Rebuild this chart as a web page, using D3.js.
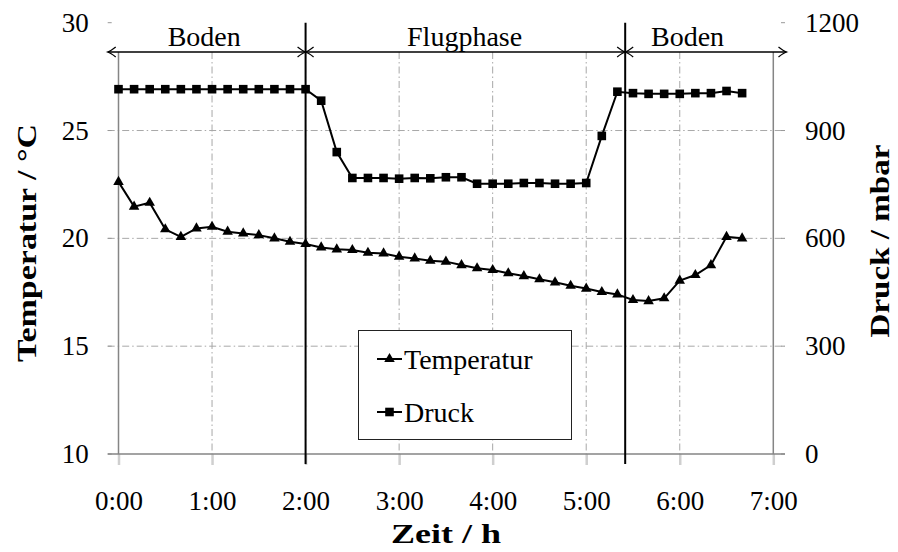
<!DOCTYPE html>
<html>
<head>
<meta charset="utf-8">
<script src="https://cdn.jsdelivr.net/npm/d3@7"></script>
<style>
  body { margin: 0; background: #fff; }
  svg { display: block; }
  text { font-family: "Liberation Serif", "DejaVu Serif", serif; fill: #000; }
</style>
</head>
<body>
<div id="chart"></div>
<script>
// time in minutes since start, 10 min steps
const times = d3.range(0, 401, 10);

const temperature = [
  22.62, 21.47, 21.65, 20.42, 20.07, 20.46, 20.54, 20.31, 20.23, 20.15,
  20.00, 19.84, 19.74, 19.58, 19.49, 19.46, 19.33, 19.30, 19.15, 19.07,
  18.96, 18.92, 18.76, 18.61, 18.53, 18.38, 18.25, 18.10, 17.96, 17.80,
  17.67, 17.51, 17.40, 17.14, 17.09, 17.22, 18.04, 18.30, 18.76, 20.07,
  20.00
];

const pressure = [
  1015, 1015, 1015, 1015, 1015, 1015, 1015, 1015, 1015, 1015,
  1015, 1015, 1015, 983, 840, 768, 768, 768, 766, 768,
  767, 770, 770, 752, 752, 752, 754, 754, 752, 752,
  754, 885, 1008, 1004, 1002, 1002, 1002, 1004, 1004, 1010,
  1004
];

const hourTicks = [0, 60, 120, 180, 240, 300, 360, 420];
const tempTicks = [10, 15, 20, 25, 30];
const pressTicks = [0, 300, 600, 900, 1200];

const phaseNames = ["Boden", "Flugphase", "Boden"];
const phaseStarts = [0, 120, 325];
const phaseLabelAt = [55, 222, 365];

const width = 898, height = 552;
const plot = { left: 107.7, right: 785, top: 22.7, bottom: 454 };
const arrowY = 52;
const serif = '"Liberation Serif", "DejaVu Serif", serif';

const x = d3.scaleLinear().domain([0, 420]).range([118.5, 773.3]);
const yT = d3.scaleLinear().domain([10, 30]).range([plot.bottom, plot.top]);
const yP = d3.scaleLinear().domain([0, 1200]).range([plot.bottom, plot.top]);

const svg = d3.select('#chart').append('svg')
  .attr('width', width)
  .attr('height', height);

const gridColor = '#a8a8a8';
const dash = '7,3,1.5,3';

// horizontal grid lines
svg.append('g').selectAll('line')
  .data(tempTicks.filter(d => d > 10 && d < 30))
  .enter().append('line')
  .attr('x1', plot.left).attr('x2', plot.right)
  .attr('y1', d => yT(d)).attr('y2', d => yT(d))
  .style('stroke', gridColor).style('stroke-width', 1)
  .style('stroke-dasharray', dash);

// vertical grid lines
svg.append('g').selectAll('line')
  .data(hourTicks.filter(d => d > 0 && d < 420))
  .enter().append('line')
  .attr('x1', d => x(d)).attr('x2', d => x(d))
  .attr('y1', arrowY).attr('y2', plot.bottom)
  .style('stroke', gridColor).style('stroke-width', 1)
  .style('stroke-dasharray', dash);

// small y ticks on both sides
svg.append('g').selectAll('line')
  .data(tempTicks)
  .enter().append('line')
  .attr('x1', plot.left).attr('x2', plot.left + 4)
  .attr('y1', d => yT(d)).attr('y2', d => yT(d))
  .style('stroke', '#999').style('stroke-width', 1);
svg.append('g').selectAll('line')
  .data(tempTicks)
  .enter().append('line')
  .attr('x1', plot.right - 4).attr('x2', plot.right)
  .attr('y1', d => yT(d)).attr('y2', d => yT(d))
  .style('stroke', '#999').style('stroke-width', 1);

// x axis (ticks + labels)
const xAxis = svg.append('g')
  .attr('transform', `translate(0,${plot.bottom})`)
  .call(d3.axisBottom(x).tickValues(hourTicks)
    .tickFormat(d => `${d / 60}:00`).tickSize(11));
xAxis.attr('font-family', null);
xAxis.select('.domain').remove();
xAxis.selectAll('.tick line').style('stroke', '#cfcfcf').style('stroke-width', 2.5);
xAxis.selectAll('.tick text')
  .attr('y', 56).attr('dy', null)
  .style('font-size', '27px').style('font-family', serif);

// solid axis lines
svg.append('line')
  .attr('x1', plot.left).attr('x2', plot.right)
  .attr('y1', plot.bottom).attr('y2', plot.bottom)
  .style('stroke', '#858585').style('stroke-width', 1.5);
svg.append('g').selectAll('line')
  .data([0, 420])
  .enter().append('line')
  .attr('x1', d => x(d)).attr('x2', d => x(d))
  .attr('y1', arrowY).attr('y2', plot.bottom)
  .style('stroke', '#858585').style('stroke-width', 1.5);

// left y axis labels
const yAxisL = svg.append('g')
  .attr('transform', `translate(${plot.left},0)`)
  .call(d3.axisLeft(yT).tickValues(tempTicks).tickSize(0).tickPadding(19));
yAxisL.attr('font-family', null);
yAxisL.select('.domain').remove();
yAxisL.selectAll('.tick text')
  .style('font-size', '27px').style('font-family', serif);

// right y axis labels
const yAxisR = svg.append('g')
  .attr('transform', `translate(${plot.right},0)`)
  .call(d3.axisRight(yP).tickValues(pressTicks).tickFormat(d3.format('d'))
    .tickSize(0).tickPadding(20));
yAxisR.attr('font-family', null);
yAxisR.select('.domain').remove();
yAxisR.selectAll('.tick text')
  .style('font-size', '27px').style('font-family', serif);

// series
const tempData = times.map((t, i) => ({ t: t, v: temperature[i] }));
const pressData = times.map((t, i) => ({ t: t, v: pressure[i] }));

svg.append('path')
  .datum(pressData)
  .attr('d', d3.line().x(d => x(d.t)).y(d => yP(d.v)))
  .style('fill', 'none').style('stroke', '#000').style('stroke-width', 2);
svg.append('g').selectAll('rect')
  .data(pressData)
  .enter().append('rect')
  .attr('x', d => x(d.t) - 4.3).attr('y', d => yP(d.v) - 4.3)
  .attr('width', 8.6).attr('height', 8.6)
  .style('fill', '#000');

svg.append('path')
  .datum(tempData)
  .attr('d', d3.line().x(d => x(d.t)).y(d => yT(d.v)))
  .style('fill', 'none').style('stroke', '#000').style('stroke-width', 2);
const tri = d3.symbol().type(d3.symbolTriangle).size(48);
svg.append('g').selectAll('path')
  .data(tempData)
  .enter().append('path')
  .attr('d', tri)
  .attr('transform', d => `translate(${x(d.t)},${yT(d.v)})`)
  .style('fill', '#000');

// phase separators
svg.append('g').selectAll('line')
  .data(phaseStarts.slice(1))
  .enter().append('line')
  .attr('x1', d => x(d)).attr('x2', d => x(d))
  .attr('y1', plot.top).attr('y2', plot.bottom + 10)
  .style('stroke', '#000').style('stroke-width', 2);

// phase arrows
const bounds = phaseStarts.map(d => x(d));
bounds[0] = plot.left;
bounds.push(plot.right + 1.5);
svg.append('line')
  .attr('x1', bounds[0]).attr('x2', bounds[bounds.length - 1])
  .attr('y1', arrowY).attr('y2', arrowY)
  .style('stroke', '#000').style('stroke-width', 1.3);

function head(xp, dir) {
  // dir = -1 points left, +1 points right
  return `M${xp - dir * 8},${arrowY - 5} Q${xp - dir * 3},${arrowY - 1} ${xp},${arrowY} Q${xp - dir * 3},${arrowY + 1} ${xp - dir * 8},${arrowY + 5}`;
}
const heads = [];
for (let i = 0; i < phaseNames.length; i++) {
  heads.push(head(bounds[i], -1));
  heads.push(head(bounds[i + 1], 1));
}
svg.append('g').selectAll('path')
  .data(heads)
  .enter().append('path')
  .attr('d', d => d)
  .style('fill', 'none').style('stroke', '#000').style('stroke-width', 1.3);

svg.append('g').selectAll('text')
  .data(phaseNames)
  .enter().append('text')
  .attr('x', (d, i) => x(phaseLabelAt[i]))
  .attr('y', 46)
  .attr('text-anchor', 'middle')
  .style('font-size', '28px')
  .text(d => d);

// legend
const legend = svg.append('g');
legend.append('rect')
  .attr('x', 358.5).attr('y', 330.5).attr('width', 213).attr('height', 109)
  .style('fill', '#fff').style('stroke', '#222').style('stroke-width', 1);

const legendItems = [
  { name: 'Temperatur', y: 359, marker: 'tri' },
  { name: 'Druck', y: 412, marker: 'sq' }
];
legendItems.forEach(item => {
  legend.append('line')
    .attr('x1', 377).attr('x2', 402)
    .attr('y1', item.y).attr('y2', item.y)
    .style('stroke', '#000').style('stroke-width', 2);
  if (item.marker == 'tri') {
    legend.append('path').attr('d', tri)
      .attr('transform', `translate(389.5,${item.y})`).style('fill', '#000');
  } else {
    legend.append('rect')
      .attr('x', 385.2).attr('y', item.y - 4.3).attr('width', 8.6).attr('height', 8.6)
      .style('fill', '#000');
  }
  legend.append('text')
    .attr('x', 404).attr('y', item.y + 9.5)
    .style('font-size', '28px')
    .text(item.name);
});

// axis titles
svg.append('text')
  .attr('x', 446).attr('y', 543)
  .attr('text-anchor', 'middle')
  .attr('textLength', 110).attr('lengthAdjust', 'spacingAndGlyphs')
  .style('font-size', '27px').style('font-weight', 'bold')
  .text('Zeit / h');

svg.append('text')
  .attr('transform', 'translate(36,243) rotate(-90)')
  .attr('text-anchor', 'middle')
  .attr('textLength', 238).attr('lengthAdjust', 'spacingAndGlyphs')
  .style('font-size', '27px').style('font-weight', 'bold')
  .text('Temperatur / °C');

svg.append('text')
  .attr('transform', 'translate(889,241) rotate(-90)')
  .attr('text-anchor', 'middle')
  .attr('textLength', 193).attr('lengthAdjust', 'spacingAndGlyphs')
  .style('font-size', '27px').style('font-weight', 'bold')
  .text('Druck / mbar');
</script>
</body>
</html>
